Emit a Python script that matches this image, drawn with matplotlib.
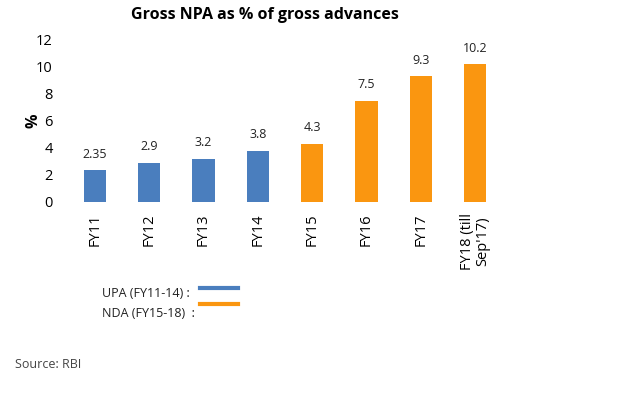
import matplotlib
matplotlib.use("Agg")
import matplotlib.pyplot as plt
from matplotlib.lines import Line2D

plt.rcParams['font.family'] = ['Open Sans', 'DejaVu Sans']

years = ["FY11", "FY12", "FY13", "FY14", "FY15", "FY16", "FY17", "FY18 (till\nSep'17)"]
npa = [2.35, 2.9, 3.2, 3.8, 4.3, 7.5, 9.3, 10.2]
labels = ["2.35", "2.9", "3.2", "3.8", "4.3", "7.5", "9.3", "10.2"]
govt = ["UPA", "UPA", "UPA", "UPA", "NDA", "NDA", "NDA", "NDA"]

blue = "#4A7EBE"
orange = "#FA9610"
colors = [blue if g == "UPA" else orange for g in govt]

fig = plt.figure(figsize=(6.34, 3.96), dpi=100)
ax = fig.add_axes([0.107, 0.49, 0.685, 0.409])

x = range(len(years))
ax.bar(x, npa, width=0.41, color=colors)
for i, (v, t) in enumerate(zip(npa, labels)):
    ax.annotate(t, (i, v), xytext=(0, 7), textcoords="offset points",
                ha="center", va="bottom", fontsize=9, color="#222222")

ax.set_xlim(-0.5, 7.5)
ax.set_ylim(0, 12)
ax.set_yticks(range(0, 13, 2))
ax.tick_params(axis="y", length=0, labelsize=10.5, pad=11)
ax.set_xticks(list(x))
ax.set_xticklabels(years, rotation=90, fontsize=10.5, va="top", ha="center",
                   linespacing=1.05)
ax.tick_params(axis="x", length=0, pad=8)
for s in ax.spines.values():
    s.set_visible(False)
ax.set_ylabel("%", fontsize=11.5, fontweight="bold")
ax.yaxis.set_label_coords(-0.06, 0.5)

fig.text(0.418, 0.962, "Gross NPA as % of gross advances", ha="center", va="center",
         fontsize=11.5, fontweight="bold")

# legend drawn as text + lines
fig.text(0.161, 0.26, "UPA (FY11-14) :", fontsize=9, va="center", color="#222222")
fig.text(0.161, 0.209, "NDA (FY15-18)  :", fontsize=9, va="center", color="#222222")
fig.add_artist(Line2D([0.315, 0.375], [0.273, 0.273], color=blue, lw=3))
fig.add_artist(Line2D([0.315, 0.375], [0.232, 0.232], color=orange, lw=3))

fig.text(0.024, 0.08, "Source: RBI", fontsize=9, va="center", color="#444444")

fig.savefig("out.png", dpi=100)
